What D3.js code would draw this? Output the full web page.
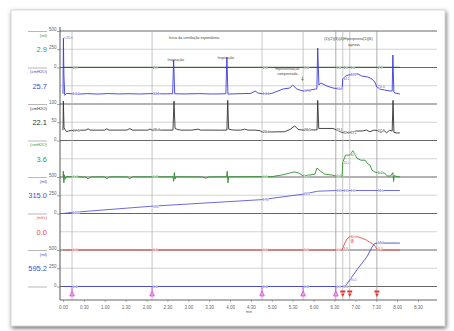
<!DOCTYPE html>
<html><head><meta charset="utf-8">
<script src="https://cdn.jsdelivr.net/npm/d3@7"></script>
<style>body{margin:0;background:#fff;} svg{display:block;font-family:"Liberation Sans",Arial,sans-serif;}</style>
</head><body><svg id="c" width="454" height="331"></svg>
<script>
// ---------------- DATA ----------------
const xTickValues = [0,30,60,90,120,150,180,210,240,270,300,330,360,390,420,450,480,510];
const xTickLabels = ["0.00","0.30","1.00","1.30","2.00","2.30","3.00","3.30","4.00","4.30","5.00","5.30","6.00","6.30","7.00","7.30","8.00","8.30"];
const xTitle = "min";
const eventTimes = [13,128,286,345,392,402,412,451];
const eventKinds = ["m","m","m","m","m","r","r","r"];
const channelUnits = ["(ml)","(cmH2O)","(cmH2O)","(cmH2O)","(ml)","(ml/s)","(ml)",""];
const channelValues = ["2.9","25.7","22.1","3.6","315.0","0.0","595.2",""];
const ch1T = [0,200,400,484];
const ch1V = [2.9,2.9,3.0,2.9];
const ch2T = [0,0.6,1.3,2.5,5,20,35,50,65,80,95,110,125,140,157.5,159,160.5,175,195,215,234,235.5,237,250,270,276,280,286,300,316,326,330,336,345,355,363,364.8,366,367.7,370.5,379,388,398,401,402,406,415,424,429,438,444,448,451,455,462,470,473,474,475.4,477,484];
const ch2V = [14,90,40,12,14.5,13.5,14.2,13.6,14.3,13.8,14.1,13.7,14.2,13.9,14,60,14,13.8,14.2,13.7,14,64,13.6,14,14.5,17.8,15,14,14.5,20.5,21.9,26,20.5,17.8,19.2,20.5,21,76.7,26,28.8,24.7,21.9,20.5,20.5,34.2,38.4,41.1,41.1,38.4,37,34.2,30.1,23.3,20.5,19.2,17.8,17.8,67.1,16.4,15.1,13.7];
const ch3T = [0,0.5,1.5,3,5,8,12,25,33,36,39,50,60,63,66,80,92,96,100,115,122,125,128,140,158,159.5,161,165,170,185,194,198,210,225,235.5,236.7,238,245,255,261,266,275,283,286,300,318,326,333,338,345,360,365,366,367.5,375,388,395,401,406,410,415,422,430,436,441,447,452,457,461,465,469,473,474.2,475.5,480,484];
const ch3V = [28,108,35,30,24,26,27.5,28,28.5,32,28.5,28.3,28.5,32,28.4,28.5,28.6,32.5,28.4,28.5,28.3,31.5,28.4,28.5,28.5,108,33,30,28.3,28.5,31,28.4,28.5,28.3,28.5,110,31,28.5,28.4,31,28.4,28.5,27,23,23.5,24,30,40,30,28.5,29,29,110,33,33,33,27,22,23.5,21,24,26,26,28.5,24,28.5,27,22,28,21,28,26,110,22,20.5,21];
const ch4T = [0,0.5,1.2,2,3,5,20,33,36,40,60,63,67,92,96,100,125,158,159,160,161,162,200,205,210,235,236,237,238,270,300,316,326,333,340,345,355,362,365,370,376,386,392,398,401,402,406,412,416.5,422,428,434,438,441,444,448,455,462,466,471,474,475,476,480,484];
const ch4V = [0.5,8,-8,3,-3,0.5,0.3,0,-2.7,0.2,0.2,-2.5,0.2,0.2,-2.5,0.3,0.2,0.3,-6,6,-3,0.3,0.2,-1.5,0.2,0.3,8,-8,0.3,0.5,0.5,3,5.5,7,5,1.4,2.7,4,12.3,8,4,2.7,1.4,1,1,20,30,30,36,26,23,23,18,16.4,9.6,6.8,5.5,5.5,1.4,1.4,6,-6,2,0.5,0.3];
const ch5T = [0,13,128,286,345,366,392,484];
const ch5V = [0,15,100,190,265,305,315,315];
const ch6T = [0,401,405,408,412,424,429,436,442,447,451,454,484];
const ch6V = [0,0,19,30,36,36,33,27,20,14,3,0,0];
const ch7T = [0,402,406,412,424,437,444,448,452,484];
const ch7V = [0,0,10,90,250,410,540,590,595,595];
const annotTexts = ["<20>","Início da ventilação espontânea","Inspiração","Inspiração","Hiperventilação","compensada","(1)(2)(3)(4)Hiperpneia(5)(6)","apneia"];

// ---------------- LAYOUT ----------------
const svg = d3.select("#c");
const L = 60, R = 437, TOP = 31, BOT = 300, LANE = 36.5;
const laneTop = i => TOP + LANE*i;
const x = d3.scaleLinear().domain([-4.31, 537.4]).range([L, R]);

const defs = svg.append("defs");
const f = defs.append("filter").attr("id","sh").attr("x","-5%").attr("y","-5%").attr("width","110%").attr("height","115%");
f.append("feDropShadow").attr("dx",1).attr("dy",2).attr("stdDeviation",2).attr("flood-color","#555").attr("flood-opacity",0.85);

svg.append("rect").attr("width",454).attr("height",331).attr("fill","#fff");
svg.append("rect").attr("x",11).attr("y",10).attr("width",434).attr("height",316)
  .attr("fill","#fff").attr("stroke","#d0d0d0").attr("stroke-width",0.8).attr("filter","url(#sh)");

// channel config
const channels = [
  {t:ch1T,v:ch1V,dom:[0,500],r:[laneTop(1),laneTop(0)],color:"#2e5e2e",txt:"#3c9a3c",ticks:[0,250,500]},
  {t:ch2T,v:ch2V,dom:[0,100],r:[laneTop(2),laneTop(0)],color:"#3a3ae0",txt:"#4a4ad0",ticks:[]},
  {t:ch3T,v:ch3V,dom:[0,100],r:[laneTop(3),laneTop(2)],color:"#333333",txt:"#333",ticks:[0,50,100]},
  {t:ch4T,v:ch4V,dom:[0,50],r:[laneTop(4),laneTop(3)],color:"#2f8f2f",txt:"#3c9a3c",ticks:[]},
  {t:ch5T,v:ch5V,dom:[0,500],r:[laneTop(5),laneTop(4)],color:"#5a5ad8",txt:"#4a4ad0",ticks:[0,250,500]},
  {t:ch6T,v:ch6V,dom:[0,100],r:[laneTop(6),laneTop(5)],color:"#f04848",txt:"#f04848",ticks:[]},
  {t:ch7T,v:ch7V,dom:[0,500],r:[laneTop(7),laneTop(6)],color:"#4848d0",txt:"#4a4ad0",ticks:[0,250,500]}
];
channels.forEach(c => c.y = d3.scaleLinear().domain(c.dom).range(c.r));

// grid
const g = svg.append("g");
for (let i=0;i<7;i++){
  g.append("line").attr("x1",L).attr("x2",R).attr("y1",laneTop(i)+LANE/2).attr("y2",laneTop(i)+LANE/2)
   .attr("stroke","#c8c8c8").attr("stroke-width",0.8);
}
for (let i=0;i<=7;i++){
  g.append("line").attr("x1",L).attr("x2",R).attr("y1",laneTop(i)).attr("y2",laneTop(i))
   .attr("stroke","#555").attr("stroke-width",0.9);
}
g.selectAll(".ev").data(eventTimes).enter().append("line")
  .attr("x1",d=>x(d)).attr("x2",d=>x(d)).attr("y1",TOP).attr("y2",BOT)
  .attr("stroke",(d,i)=> i===4||i===7 ? "#999":"#b8b8b8").attr("stroke-width",0.8);

svg.append("line").attr("x1",L).attr("x2",L).attr("y1",27).attr("y2",BOT).attr("stroke","#444").attr("stroke-width",0.9);
svg.append("line").attr("x1",L).attr("x2",R).attr("y1",BOT).attr("y2",BOT).attr("stroke","#555").attr("stroke-width",0.9);

// left channel axes
channels.forEach(c=>{
  if(!c.ticks.length) return;
  const ax = svg.append("g").attr("transform",`translate(${L},0)`)
    .call(d3.axisLeft(c.y).tickValues(c.ticks).tickSize(3).tickFormat(d3.format("d")));
  ax.select(".domain").remove();
  ax.selectAll("line").attr("stroke","#666").attr("stroke-width",0.6);
  ax.selectAll("text").attr("font-size",4.5).attr("fill","#666").attr("dy","-0.5").attr("x",-3.5);
});

// bottom axis
const bx = svg.append("g").attr("transform",`translate(0,${BOT})`)
  .call(d3.axisBottom(x).tickValues(xTickValues).tickSize(2).tickFormat((d,i)=>xTickLabels[i]));
bx.select(".domain").remove();
bx.selectAll("line").attr("stroke","#777").attr("stroke-width",0.6);
bx.selectAll("text").attr("font-size",4.5).attr("fill","#666").attr("dy","0.9em");
svg.append("text").attr("x",x(270)-2).attr("y",313).attr("font-size",4).attr("fill","#666").attr("text-anchor","middle").text(xTitle);

// data lines
channels.forEach(c=>{
  const pts = c.t.map((t,i)=>[t,c.v[i]]);
  svg.append("path").datum(pts).attr("fill","none").attr("stroke",c.color).attr("stroke-width",0.9)
    .attr("stroke-linejoin","round")
    .attr("d", d3.line().x(d=>x(d[0])).y(d=>c.y(d[1])));
});

// value labels at event lines
const fmtS = d3.format(".1f"), fmtL = d3.format(".0f");
channels.forEach(c=>{
  eventTimes.forEach((t,k)=>{
    const i = d3.bisectLeft(c.t, t);
    let v;
    if (i<=0) v=c.v[0]; else if (i>=c.t.length) v=c.v[c.v.length-1];
    else { const t0=c.t[i-1],t1=c.t[i]; v = c.v[i-1] + (c.v[i]-c.v[i-1])*(t-t0)/(t1-t0); }
    const crowded = k>=4 && k<=6;
    svg.append("text").attr("x",x(t)+0.8).attr("y",c.y(v)+1.3).attr("font-size",crowded?3.1:3.6)
      .attr("fill",c.color).attr("stroke","#fff").attr("stroke-width",0.7).attr("paint-order","stroke")
      .attr("opacity",0.85).text(Math.abs(v)>=100 ? fmtL(v) : fmtS(v));
  });
});

// left label panel
for (let i=0;i<8;i++){
  const col = i<7 ? channels[i].txt : "#888";
  svg.append("line").attr("x1",28).attr("x2",47).attr("y1",laneTop(i)+0.5).attr("y2",laneTop(i)+0.5)
    .attr("stroke","#999").attr("stroke-width",0.7);
  svg.append("text").attr("x",47).attr("y",laneTop(i)+5.5).attr("text-anchor","end").attr("font-size",4.2)
    .attr("fill",col).text(channelUnits[i]);
  svg.append("text").attr("x",47).attr("y",laneTop(i)+21.3).attr("text-anchor","end").attr("font-size",7.5)
    .attr("fill",col).text(channelValues[i]);
}

// event markers at bottom
eventTimes.forEach((t,k)=>{
  const cx = x(t);
  if (eventKinds[k]==="m"){
    svg.append("line").attr("x1",cx).attr("x2",cx).attr("y1",286.5).attr("y2",291).attr("stroke","#d838d8").attr("stroke-width",0.8);
    svg.append("path").attr("d",`M${cx-2.3},296 L${cx},291 L${cx+2.3},296 Z`).attr("fill","#f0a0f0").attr("stroke","#d838d8").attr("stroke-width",0.7);
  } else {
    svg.append("rect").attr("x",cx-2.5).attr("y",290.5).attr("width",5).attr("height",2).attr("fill","#e83030");
    svg.append("path").attr("d",`M${cx-1.8},293.5 L${cx+1.8},293.5 L${cx},297 Z`).attr("fill","#e83030");
  }
});

// annotations (anchored in time)
const annots = [
  {t:1,y:39,s:4},{t:152,y:39,s:3.6},{t:150,y:61,s:3.6},{t:222,y:59,s:3.6},{t:305,y:70,s:3.5},{t:308,y:75,s:3.5},{t:375,y:40,s:4},{t:410,y:46,s:3.8}
];
annots.forEach((a,i)=>{
  svg.append("text").attr("x",x(a.t)).attr("y",a.y).attr("font-size",a.s).attr("fill",i===0?"#6a6ad0":"#444").text(annotTexts[i]);
});
svg.append("path").attr("d",`M${x(344)},76.5 L${x(344)},80 M${x(344)-1},79 L${x(344)},80.5 L${x(344)+1},79`).attr("stroke","#444").attr("stroke-width",0.5).attr("fill","none");
svg.append("text").attr("x",x(414)).attr("y",243).attr("font-size",4.5).attr("fill","#e83030").text("8");
</script></body></html>
